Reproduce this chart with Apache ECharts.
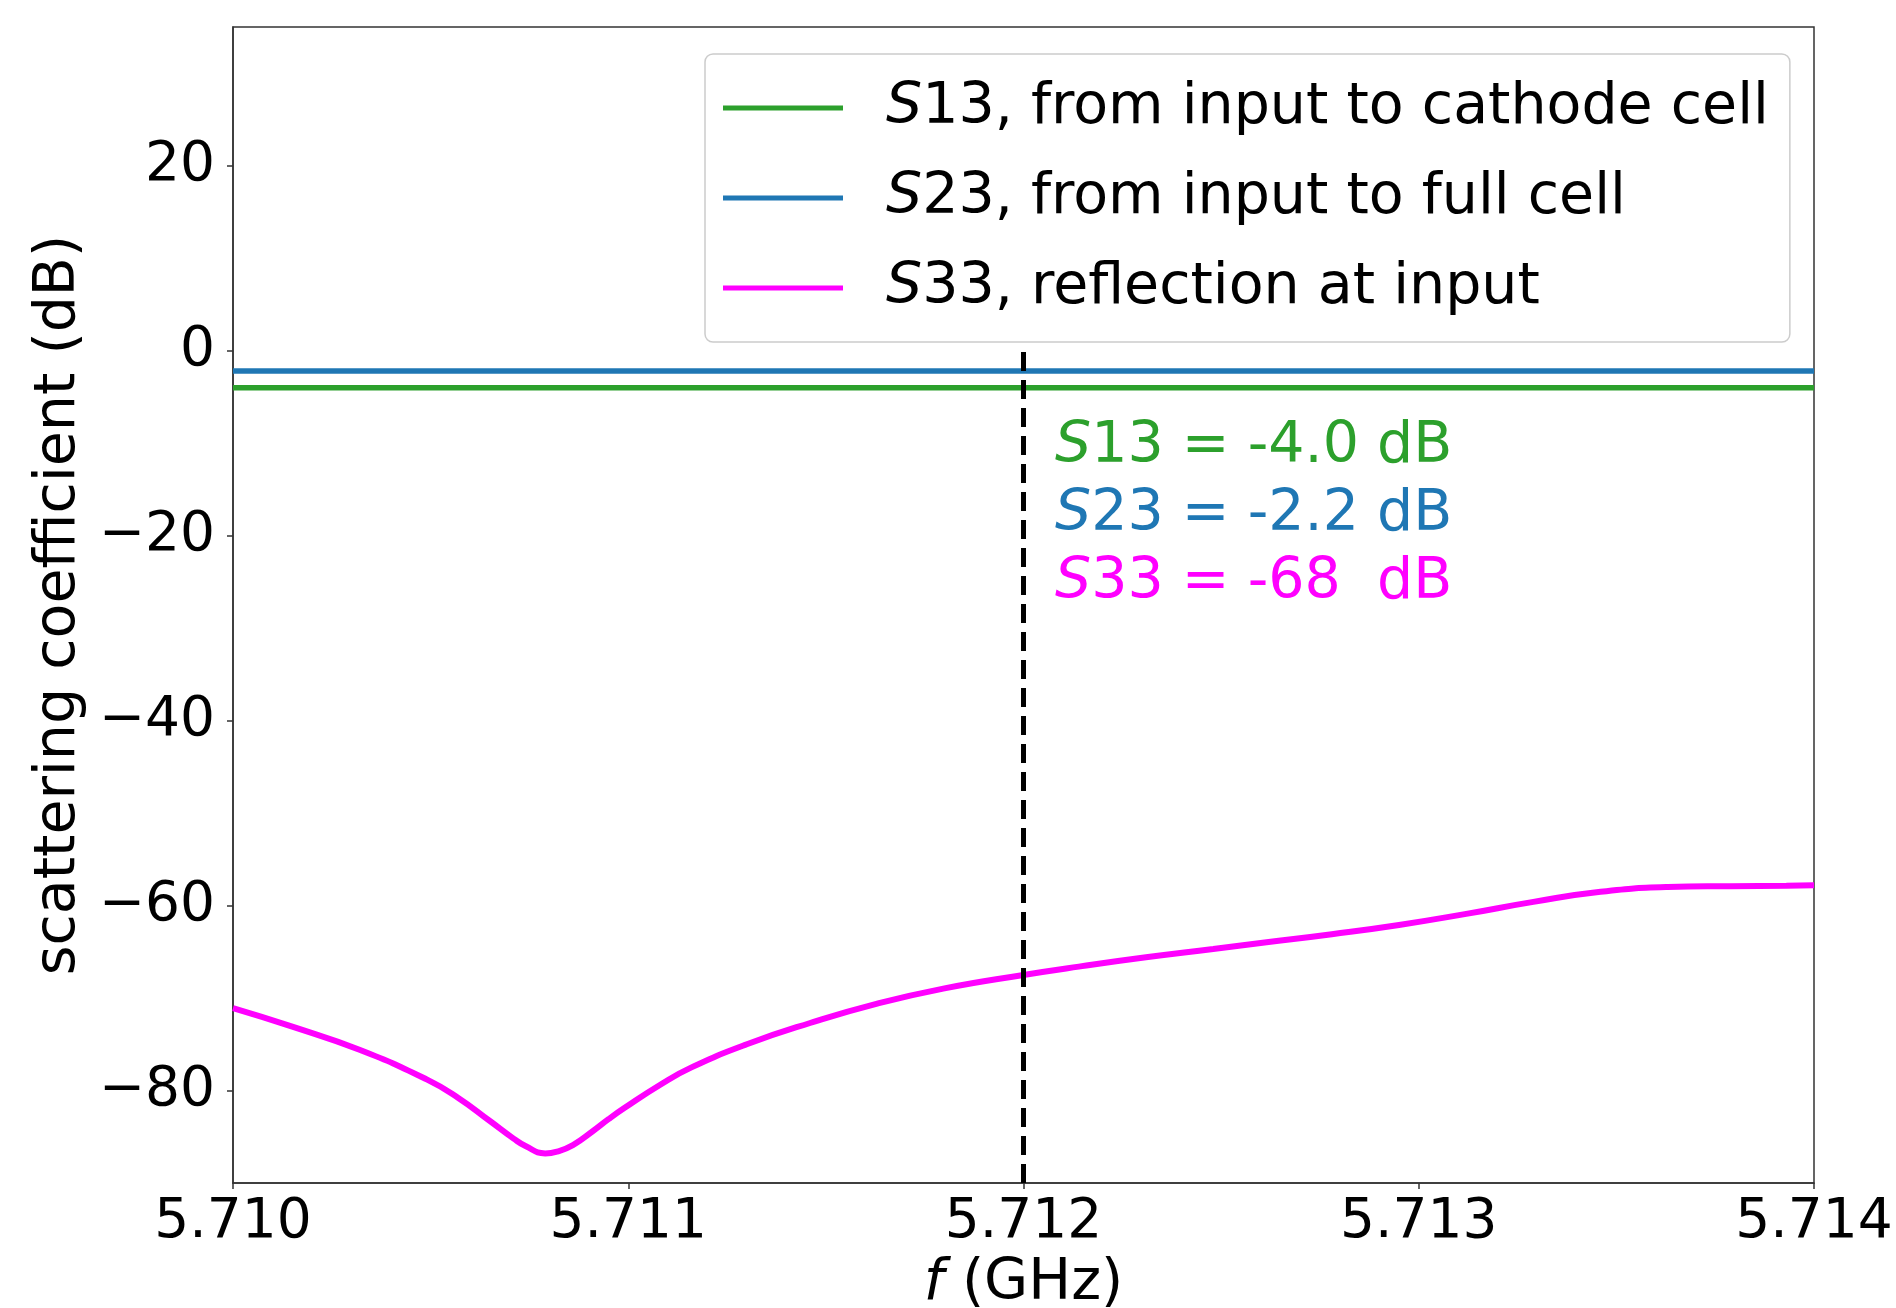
<!DOCTYPE html>
<html>
<head>
<meta charset="utf-8">
<script src="https://cdn.jsdelivr.net/npm/echarts@6/dist/echarts.min.js"></script>
<style>
html, body { margin: 0; padding: 0; background: #ffffff; }
#chart { width: 1896px; height: 1308px; }
</style>
</head>
<body>
<div id="chart"></div>
<script>
// ---- data ----
const freqSpan = [5.710, 5.714];          // GHz, ends of the constant lines
const s13Values = [-4.0, -4.0];           // dB
const s23Values = [-2.2, -2.2];           // dB
const s33Freq = [5.7100, 5.71015, 5.71032, 5.71049, 5.71057, 5.71065, 5.71071, 5.71074,
                 5.71079, 5.71082, 5.71086, 5.71091, 5.71095, 5.71099, 5.71108, 5.71116,
                 5.71130, 5.71146, 5.71163, 5.71180, 5.71200, 5.71214, 5.71231, 5.71248,
                 5.71261, 5.71278, 5.71295, 5.71312, 5.71329, 5.71346, 5.71363, 5.71379,
                 5.71393, 5.71400];
const s33Values = [-71.1, -73.1, -75.6, -78.8, -80.8, -83.3, -85.2, -86.0,
                   -86.8, -86.6, -85.9, -84.4, -83.1, -81.9, -79.4, -77.5,
                   -75.0, -72.7, -70.6, -68.95, -67.5, -66.6, -65.6, -64.7,
                   -64.0, -63.1, -62.1, -60.9, -59.6, -58.5, -58.0, -57.9,
                   -57.85, -57.8];
const markerFreq = [5.712, 5.712];
const markerDb = [-90, 0];
const xTicks = [5.710, 5.711, 5.712, 5.713, 5.714];
const yTicks = [-80, -60, -40, -20, 0, 20];
const seriesNames = ['S13, from input to cathode cell', 'S23, from input to full cell', 'S33, reflection at input'];
const annotations = ['13 = -4.0 dB', '23 = -2.2 dB', '33 = -68  dB'];
const colors = ['#2ca02c', '#1f77b4', '#ff00ff'];

const FONT = 'DejaVu Sans';
const TXT = 57;
const zip = (a, b) => a.map((v, i) => [v, b[i]]);

const chart = echarts.init(document.getElementById('chart'), null, { renderer: 'canvas' });

const tickStyle = { show: true, length: 6, lineStyle: { color: '#333', width: 1.5 } };

const option = {
  backgroundColor: '#ffffff',
  animation: false,
  grid: {
    left: 233, right: 82, top: 27, bottom: 125,
    outerBoundsMode: 'none', containLabel: false,
    show: true, borderColor: '#333', borderWidth: 1.5, backgroundColor: 'transparent'
  },
  xAxis: {
    type: 'value', min: 5.710, max: 5.714,
    axisLine: { show: true, onZero: false, lineStyle: { color: '#333', width: 1.5 } },
    splitLine: { show: false },
    axisTick: Object.assign({}, tickStyle, { customValues: xTicks }),
    axisLabel: {
      customValues: xTicks, margin: 12,
      formatter: v => v.toFixed(3),
      color: '#000', fontSize: 55, fontFamily: FONT
    },
    name: '{i|f} (GHz)', nameLocation: 'middle', nameGap: 73,
    nameTextStyle: {
      color: '#000', fontSize: TXT, fontFamily: FONT,
      rich: { i: { fontStyle: 'italic', fontSize: TXT, fontFamily: FONT, color: '#000' } }
    }
  },
  yAxis: {
    type: 'value', min: -90, max: 35,
    axisLine: { show: true, onZero: false, lineStyle: { color: '#333', width: 1.5 } },
    splitLine: { show: false },
    axisTick: Object.assign({}, tickStyle, { customValues: yTicks }),
    axisLabel: {
      customValues: yTicks, margin: 18,
      formatter: v => (v < 0 ? '\u2212' + Math.abs(v) : String(v)),
      color: '#000', fontSize: 55, fontFamily: FONT
    },
    name: 'scattering coefficient (dB)', nameLocation: 'middle', nameGap: 140,
    nameTextStyle: { color: '#000', fontSize: TXT, fontFamily: FONT }
  },
  legend: {
    show: true, orient: 'vertical', left: 705, top: 54,
    data: seriesNames.map(n => ({ name: n, icon: 'rect' })),
    itemWidth: 120, itemHeight: 5, itemGap: 26,
    padding: [22, 21, 22, 18],
    backgroundColor: 'rgba(255,255,255,0.8)',
    borderColor: '#cccccc', borderWidth: 1.5, borderRadius: 8,
    formatter: n => '{i|S}' + n.slice(1),
    textStyle: {
      color: '#000', fontSize: TXT, fontFamily: FONT, lineHeight: 64,
      padding: [0, 0, 0, 38],
      rich: { i: { fontStyle: 'italic', fontSize: TXT, fontFamily: FONT, color: '#000', lineHeight: 64 } }
    },
    selectedMode: false
  },
  series: [
    {
      name: seriesNames[0], type: 'line', data: zip(freqSpan, s13Values),
      color: colors[0], showSymbol: false, symbol: 'none',
      lineStyle: { color: colors[0], width: 5.5 }, z: 2
    },
    {
      name: seriesNames[1], type: 'line', data: zip(freqSpan, s23Values),
      color: colors[1], showSymbol: false, symbol: 'none',
      lineStyle: { color: colors[1], width: 5.5 }, z: 3
    },
    {
      name: seriesNames[2], type: 'line', data: zip(s33Freq, s33Values),
      color: colors[2], showSymbol: false, symbol: 'none',
      smooth: 0.5,
      lineStyle: { color: colors[2], width: 6 }, z: 4
    },
    {
      name: 'marker', type: 'line', data: zip(markerFreq, markerDb),
      color: '#000', showSymbol: false, symbol: 'none',
      lineStyle: { color: '#000', width: 5, type: [19, 9] }, z: 5
    }
  ],
  graphic: annotations.map((t, i) => ({
    type: 'text', x: 1055, y: 447 + i * 68.3, z: 10,
    style: {
      text: '{i|S}{n|' + t + '}',
      verticalAlign: 'middle', align: 'left',
      fill: colors[i], fontSize: TXT, fontFamily: FONT,
      rich: {
        i: { fontStyle: 'italic', fontSize: TXT, fontFamily: FONT, fill: colors[i] },
        n: { fontSize: TXT, fontFamily: FONT, fill: colors[i] }
      }
    }
  }))
};

chart.setOption(option);
</script>
</body>
</html>
